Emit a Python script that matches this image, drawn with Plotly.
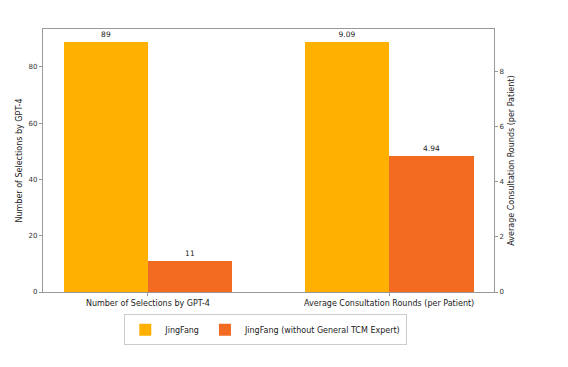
import plotly.graph_objects as go

categories = ["Number of Selections by GPT-4", "Average Consultation Rounds (per Patient)"]
series_names = ["JingFang", "JingFang (without General TCM Expert)"]
jingfang = [89, 9.09]
jingfang_wo = [11, 4.94]
jingfang_labels = ["89", "9.09"]
jingfang_wo_labels = ["11", "4.94"]

colors = ["#FFB000", "#F26B21"]
font = "DejaVu Sans, Arial, sans-serif"
width = 0.35

fig = go.Figure()
for si, (vals, labels) in enumerate([(jingfang, jingfang_labels), (jingfang_wo, jingfang_wo_labels)]):
    offset = -width if si == 0 else 0
    for ci in range(len(categories)):
        fig.add_trace(go.Bar(
            x=[ci], y=[vals[ci]], text=[labels[ci]],
            offset=offset, width=width,
            marker=dict(color=colors[si], line=dict(width=0)),
            name=series_names[si], legendgroup=series_names[si],
            showlegend=(ci == 0),
            yaxis="y" if ci == 0 else "y2",
            textposition="outside", cliponaxis=False,
            textfont=dict(size=7.5, color="#222", family=font),
        ))

axis_common = dict(showgrid=False, zeroline=False, showline=True, linecolor="#999",
                   linewidth=1.2, ticks="outside", ticklen=3, tickcolor="#999",
                   automargin=False)
ytick_font = dict(size=7, color="#333", family=font)

fig.update_layout(
    width=568, height=367,
    margin=dict(l=35, r=82, t=21, b=83, autoexpand=False),
    paper_bgcolor="white", plot_bgcolor="white",
    barmode="overlay", bargap=0,
    font=dict(family=font, color="#222"),
    xaxis=dict(**axis_common, mirror=True, range=[-0.435, 1.435],
               tickmode="array", tickvals=[0, 1], ticktext=categories,
               tickfont=dict(size=8, color="#222", family=font)),
    yaxis=dict(**axis_common, range=[0, 93.45], tickvals=[0, 20, 40, 60, 80],
               tickfont=ytick_font,
               title=dict(text="Number of Selections by GPT-4", font=dict(size=8, family=font), standoff=4)),
    yaxis2=dict(**axis_common, overlaying="y", side="right", range=[0, 9.5445],
                tickvals=[0, 2, 4, 6, 8], tickfont=ytick_font,
                title=dict(text="Average Consultation Rounds (per Patient)", font=dict(size=8, family=font), standoff=4)),
    legend=dict(orientation="h", x=0.494, xanchor="center", y=-0.085, yanchor="top",
                bordercolor="#ccc", borderwidth=1, font=dict(size=8, family=font),
                itemwidth=30, traceorder="normal", tracegroupgap=0),
)

fig.write_html("out.html")
